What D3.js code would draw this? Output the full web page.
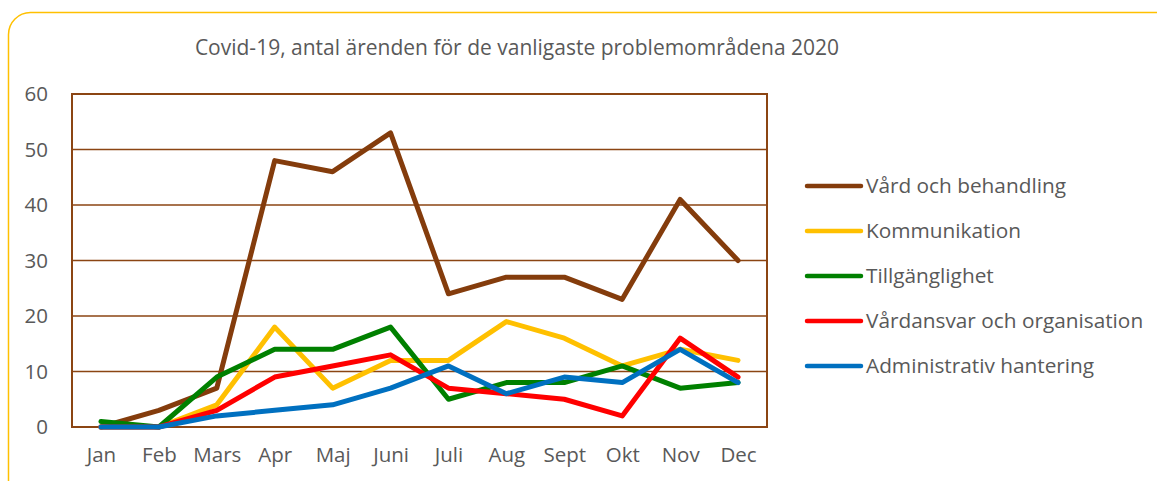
<!DOCTYPE html>
<html>
<head>
<meta charset="utf-8">
<script src="https://cdn.jsdelivr.net/npm/d3@7"></script>
<style>
  body { margin: 0; background: #fff; }
  svg text { font-family: "Open Sans", sans-serif; fill: #595959; }
</style>
</head>
<body>
<div id="chart"></div>
<script>
// data
var months = ["Jan", "Feb", "Mars", "Apr", "Maj", "Juni", "Juli", "Aug", "Sept", "Okt", "Nov", "Dec"];
var seriesNames = ["Vård och behandling", "Kommunikation", "Tillgänglighet", "Vårdansvar och organisation", "Administrativ hantering"];
var vard = [0, 3, 7, 48, 46, 53, 24, 27, 27, 23, 41, 30];
var kommunikation = [0, 0, 4, 18, 7, 12, 12, 19, 16, 11, 14, 12];
var tillganglighet = [1, 0, 9, 14, 14, 18, 5, 8, 8, 11, 7, 8];
var vardansvar = [0, 0, 3, 9, 11, 13, 7, 6, 5, 2, 16, 9];
var administrativ = [0, 0, 2, 3, 4, 7, 11, 6, 9, 8, 14, 8];
var yTicks = [0, 10, 20, 30, 40, 50, 60];
var colors = ["#843C0C", "#FFC000", "#008000", "#FF0000", "#0070C0"];

var allSeries = [vard, kommunikation, tillganglighet, vardansvar, administrativ];

var width = 1157, height = 481;
var plot = { left: 72, right: 767, top: 94, bottom: 427 };
var font = "'Open Sans', sans-serif";

var svg = d3.select("#chart").append("svg")
    .attr("width", width)
    .attr("height", height);

// yellow rounded frame
svg.append("rect")
    .attr("x", 8.5).attr("y", 12.5)
    .attr("width", 1170).attr("height", 500)
    .attr("rx", 22).attr("ry", 22)
    .style("fill", "none")
    .style("stroke", "#FFC000")
    .style("stroke-width", 1.5);

svg.append("text")
    .attr("x", 517).attr("y", 55)
    .attr("text-anchor", "middle")
    .style("font-size", "21px")
    .text("Covid-19, antal ärenden för de vanligaste problemområdena 2020");

var x = d3.scalePoint().domain(months).range([plot.left, plot.right]).padding(0.5);
var y = d3.scaleLinear().domain([0, 60]).range([plot.bottom, plot.top]);

// gridlines
svg.append("g").selectAll("line")
    .data(yTicks)
    .enter().append("line")
    .attr("x1", plot.left).attr("x2", plot.right)
    .attr("y1", function (d) { return y(d); })
    .attr("y2", function (d) { return y(d); })
    .style("stroke", "#8B4513")
    .style("stroke-width", 1.5);

// plot border
svg.append("rect")
    .attr("x", plot.left).attr("y", plot.top)
    .attr("width", plot.right - plot.left)
    .attr("height", plot.bottom - plot.top)
    .style("fill", "none")
    .style("stroke", "#8B4513")
    .style("stroke-width", 2);

// y axis labels
var yAxis = d3.axisLeft(y).tickValues(yTicks).tickSize(0).tickPadding(24);
var gy = svg.append("g").attr("transform", "translate(" + plot.left + ",0)").call(yAxis);
gy.select(".domain").remove();
gy.selectAll("text").style("font-size", "20.5px").style("fill", "#595959").style("font-family", font);

// x axis labels
var xAxis = d3.axisBottom(x).tickSize(0).tickPadding(20);
var gx = svg.append("g").attr("transform", "translate(0," + plot.bottom + ")").call(xAxis);
gx.select(".domain").remove();
gx.selectAll("text").style("font-size", "20.5px").style("fill", "#595959").style("font-family", font);

var line = d3.line()
    .x(function (d, i) { return x(months[i]); })
    .y(function (d) { return y(d); });

svg.append("g").selectAll("path")
    .data(allSeries)
    .enter().append("path")
    .attr("d", line)
    .style("fill", "none")
    .style("stroke", function (d, i) { return colors[i]; })
    .style("stroke-width", 5)
    .style("stroke-linejoin", "round")
    .style("stroke-linecap", "round");

// legend
var legend = svg.append("g").selectAll("g")
    .data(seriesNames)
    .enter().append("g")
    .attr("transform", function (d, i) { return "translate(806," + (186 + i * 45) + ")"; });

legend.append("line")
    .attr("x1", 1).attr("x2", 55)
    .style("stroke", function (d, i) { return colors[i]; })
    .style("stroke-width", 4.5)
    .style("stroke-linecap", "round");

legend.append("text")
    .attr("x", 60).attr("dy", "0.35em")
    .style("font-size", "20.8px")
    .text(function (d) { return d; });
</script>
</body>
</html>
